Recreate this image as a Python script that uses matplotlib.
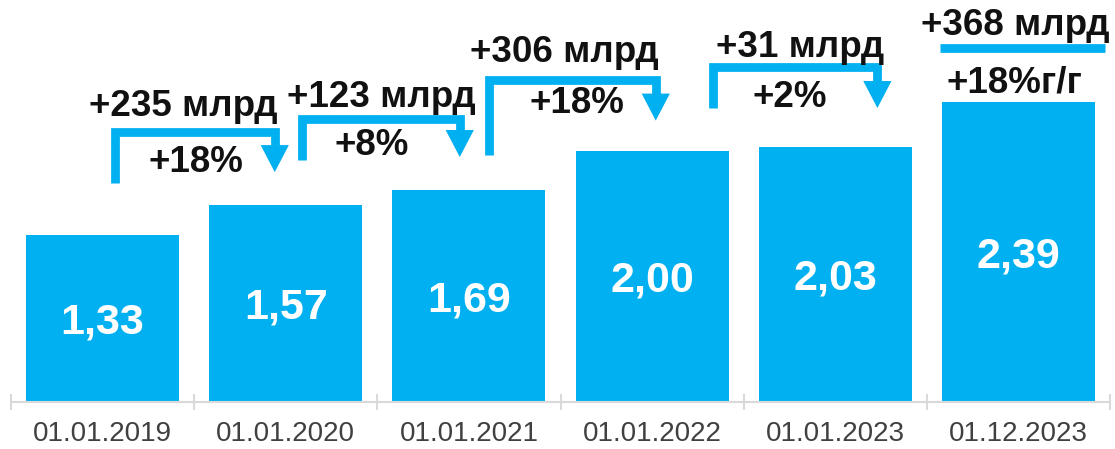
import matplotlib
matplotlib.use("Agg")
import matplotlib.pyplot as plt
from matplotlib.patches import Polygon

plt.rcParams['font.family'] = ['Liberation Sans', 'DejaVu Sans']

dates = ["01.01.2019", "01.01.2020", "01.01.2021", "01.01.2022", "01.01.2023", "01.12.2023"]
values = [1.33, 1.57, 1.69, 2.00, 2.03, 2.39]
value_labels = ["1,33", "1,57", "1,69", "2,00", "2,03", "2,39"]
abs_changes = ["+235 млрд", "+123 млрд", "+306 млрд", "+31 млрд"]
pct_changes = ["+18%", "+8%", "+18%", "+2%"]
total_abs = "+368 млрд"
total_pct = "+18%г/г"

BLUE = "#00B0F0"

# bracket layout: x left, x right, y bottom of stem, y of horizontal, y of arrow tip
brackets = [
    (0.07, 0.94, 1.74, 2.15, 1.83),
    (1.09, 1.95, 1.93, 2.25, 1.95),
    (2.11, 3.02, 1.97, 2.56, 2.24),
    (3.33, 4.23, 2.34, 2.67, 2.34),
]
abs_pos = [(0.44, 2.35), (1.52, 2.42), (2.52, 2.78), (3.81, 2.82)]
pct_pos = [(0.51, 1.91), (1.47, 2.04), (2.59, 2.38), (3.75, 2.42)]

fig = plt.figure(figsize=(11.15, 4.49), dpi=100)
ax = fig.add_axes([11 / 1115, 47 / 449, 1099 / 1115, 402 / 449])

x = range(len(values))
ax.bar(x, values, width=0.835, color=BLUE, zorder=2)
for i, (v, lab) in enumerate(zip(values, value_labels)):
    ax.text(i, v / 2 - 0.035, lab, ha="center", va="center", color="white",
            fontsize=31, fontweight="bold")

head_w = 0.077
head_h = 0.215
txt = dict(ha="center", va="center", fontsize=26.5, fontweight="bold", color="#111111")
for (xl, xr, yb, yl, yt), a, p, ap, pp in zip(brackets, abs_changes, pct_changes, abs_pos, pct_pos):
    ax.plot([xl, xl, xr, xr], [yb, yl, yl, yt + head_h], color=BLUE, lw=6.3,
            solid_joinstyle="miter", solid_capstyle="butt", zorder=3, clip_on=False)
    ax.add_patch(Polygon([(xr - head_w, yt + head_h), (xr + head_w, yt + head_h), (xr, yt)],
                         closed=True, color=BLUE, lw=0, zorder=3, clip_on=False))
    ax.text(ap[0], ap[1], a, **txt)
    ax.text(pp[0], pp[1], p, **txt)

ax.text(4.98, 3.0, total_abs, **txt)
ax.plot([4.57, 5.47], [2.82, 2.82], color=BLUE, lw=6.3, solid_capstyle="butt", clip_on=False)
ax.text(4.98, 2.54, total_pct, **txt)

ax.set_xlim(-0.5, 5.5)
ax.set_ylim(0, 3.2)
ax.set_xticks(list(x))
ax.set_xticklabels(dates, fontsize=20, color="#404040")
ax.set_xticks([i - 0.5 for i in range(len(values) + 1)], minor=True)
ax.tick_params(axis="x", which="major", length=0, pad=14)
ax.tick_params(axis="x", which="minor", length=11, direction="inout", color="#d9d9d9", width=1.5)
ax.set_yticks([])
for s in ["top", "left", "right"]:
    ax.spines[s].set_visible(False)
ax.spines["bottom"].set_color("#d9d9d9")
ax.spines["bottom"].set_linewidth(1.5)

fig.savefig("out.png", dpi=100)
